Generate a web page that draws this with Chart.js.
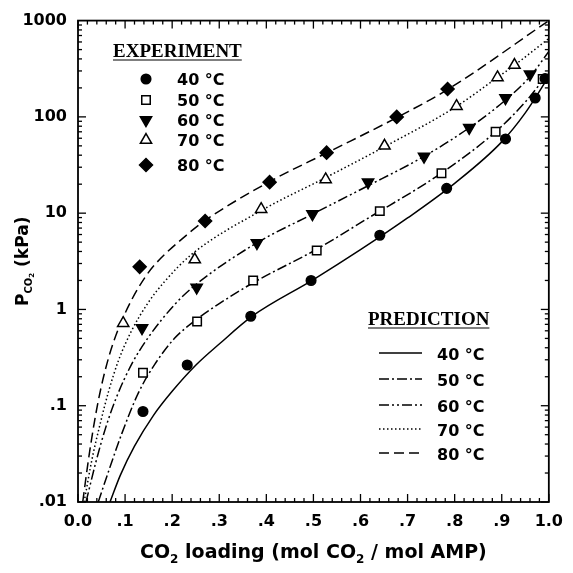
<!DOCTYPE html>
<html>
<head>
<meta charset="utf-8">
<title>CO2 partial pressure over AMP</title>
<script src="https://cdn.jsdelivr.net/npm/chart.js@4.4.1/dist/chart.umd.min.js"></script>
<style>
  html, body { margin: 0; padding: 0; background: #fff; }
  canvas { display: block; }
</style>
</head>
<body>
<canvas id="chart" width="573" height="573"></canvas>
<script>
const temps = ['40 °C', '50 °C', '60 °C', '70 °C', '80 °C'];

// axis ticks
const xTickValues = [0, 0.1, 0.2, 0.3, 0.4, 0.5, 0.6, 0.7, 0.8, 0.9, 1.0];
const xTickLabels = ['0.0', '.1', '.2', '.3', '.4', '.5', '.6', '.7', '.8', '.9', '1.0'];
const yTickValues = [0.01, 0.1, 1, 10, 100, 1000];
const yTickLabels = ['.01', '.1', '1', '10', '100', '1000'];

// experiment (markers)
const exp40X = [0.138, 0.232, 0.367, 0.495, 0.641, 0.783, 0.908, 0.971, 0.992];
const exp40Y = [0.087, 0.265, 0.85, 2.0, 5.9, 18.1, 59, 157, 250];
const exp50X = [0.138, 0.253, 0.372, 0.507, 0.641, 0.772, 0.887, 0.987];
const exp50Y = [0.22, 0.75, 2.0, 4.1, 10.5, 26, 70, 247];
const exp60X = [0.136, 0.252, 0.38, 0.498, 0.616, 0.735, 0.831, 0.908, 0.96];
const exp60Y = [0.64, 1.69, 4.9, 9.8, 21, 38.7, 77, 157, 277];
const exp70X = [0.096, 0.248, 0.389, 0.526, 0.651, 0.804, 0.891, 0.927];
const exp70Y = [0.72, 3.3, 11, 22.4, 50, 129, 257, 345];
const exp80X = [0.131, 0.27, 0.407, 0.528, 0.677, 0.785];
const exp80Y = [2.77, 8.3, 21, 42.5, 100, 195];

// prediction (curves)
const pred40X = [0.068, 0.09, 0.12, 0.16, 0.2, 0.25, 0.3, 0.37, 0.5, 0.6, 0.7, 0.8, 0.9, 0.95, 1.0];
const pred40Y = [0.01, 0.019, 0.038, 0.079, 0.141, 0.263, 0.437, 0.851, 2.04, 4.17, 8.91, 20.4, 55, 110, 263];
const pred50X = [0.043, 0.065, 0.093, 0.128, 0.163, 0.205, 0.253, 0.3, 0.373, 0.509, 0.61, 0.773, 0.888, 0.951, 1.0];
const pred50Y = [0.01, 0.0209, 0.0513, 0.135, 0.269, 0.501, 0.794, 1.148, 1.905, 4.27, 8.51, 26.3, 70.8, 144.5, 288];
const pred60X = [0.017, 0.038, 0.058, 0.081, 0.114, 0.149, 0.205, 0.246, 0.376, 0.498, 0.61, 0.735, 0.829, 0.909, 0.962, 1.0];
const pred60Y = [0.01, 0.026, 0.0575, 0.12, 0.27, 0.51, 1.12, 1.74, 4.79, 9.77, 18.6, 38.9, 75.9, 151, 269, 479];
const pred70X = [0.013, 0.03, 0.048, 0.065, 0.086, 0.114, 0.149, 0.184, 0.241, 0.39, 0.526, 0.651, 0.801, 0.891, 0.928, 1.0];
const pred70Y = [0.01, 0.0282, 0.0676, 0.141, 0.295, 0.603, 1.175, 1.95, 3.72, 10.7, 23.4, 49, 126, 257, 347, 652];
const pred80X = [0.01, 0.024, 0.043, 0.065, 0.086, 0.114, 0.142, 0.164, 0.23, 0.269, 0.404, 0.53, 0.676, 0.787, 1.0];
const pred80Y = [0.01, 0.0316, 0.112, 0.316, 0.631, 1.259, 2.138, 2.951, 5.888, 8.318, 20.9, 42.7, 97.7, 195, 1000];

const FONT = '"DejaVu Sans", sans-serif';

const expSeries = [[exp40X, exp40Y], [exp50X, exp50Y], [exp60X, exp60Y], [exp70X, exp70Y], [exp80X, exp80Y]];
const predSeries = [[pred40X, pred40Y], [pred50X, pred50Y], [pred60X, pred60Y], [pred70X, pred70Y], [pred80X, pred80Y]];

const markers = [
    { pointStyle: 'circle', radius: 4.8, rotation: 0, fill: '#000' },
    { pointStyle: 'rect', radius: 6, rotation: 0, fill: '#fff' },
    { pointStyle: 'triangle', radius: 6.5, rotation: 180, fill: '#000' },
    { pointStyle: 'triangle', radius: 6.5, rotation: 0, fill: '#fff' },
    { pointStyle: 'rectRot', radius: 6.5, rotation: 0, fill: '#000' },
];
const dashes = [[], [10, 3, 2, 3], [10, 3, 2, 3, 2, 3], [1.5, 2.5], [10, 5]];

function pts(xs, ys) {
    return xs.map(function(x, i) { return { x: x, y: ys[i] }; });
}

const datasets = [];
expSeries.forEach(function(s, i) {
    const m = markers[i];
    datasets.push({
        label: 'exp ' + temps[i],
        data: pts(s[0], s[1]),
        showLine: false,
        pointStyle: m.pointStyle,
        pointRadius: m.radius,
        pointRotation: m.rotation,
        pointBackgroundColor: m.fill,
        pointBorderColor: '#000',
        pointBorderWidth: 1.5,
    });
});
predSeries.forEach(function(s, i) {
    datasets.push({
        label: 'pred ' + temps[i],
        data: pts(s[0], s[1]),
        showLine: true,
        pointRadius: 0,
        borderColor: '#000',
        borderWidth: 1.5,
        borderDash: dashes[i],
        cubicInterpolationMode: 'monotone',
        fill: false,
    });
});

function seg(c, x1, y1, x2, y2) {
    c.beginPath();
    c.moveTo(x1, y1);
    c.lineTo(x2, y2);
    c.stroke();
}

// inward ticks on all four sides + frame
const frameTicks = {
    id: 'frameTicks',
    afterDatasetsDraw(chart) {
        const c = chart.ctx;
        const a = chart.chartArea;
        const x = chart.scales.x, y = chart.scales.y;
        c.save();
        c.strokeStyle = '#000';
        c.lineWidth = 1.3;
        for (let i = 0; i <= 50; i++) {
            const px = x.getPixelForValue(i / 50);
            const len = i % 5 === 0 ? 8 : 4;
            seg(c, px, a.bottom, px, a.bottom - len);
            seg(c, px, a.top, px, a.top + len);
        }
        for (let d = -2; d <= 2; d++) {
            for (let m = 1; m <= 9; m++) {
                const py = y.getPixelForValue(m * Math.pow(10, d));
                const len = m === 1 ? 8 : 4;
                seg(c, a.left, py, a.left + len, py);
                seg(c, a.right, py, a.right - len, py);
            }
        }
        c.lineWidth = 1.8;
        c.strokeRect(a.left, a.top, a.right - a.left, a.bottom - a.top);
        c.restore();
    }
};

// draw runs of text with subscripts, centred on cx
function drawRuns(c, runs, cx, baseY) {
    let total = 0;
    runs.forEach(function(r) { c.font = r.font; total += c.measureText(r.text).width; });
    let xx = cx - total / 2;
    runs.forEach(function(r) {
        c.font = r.font;
        c.fillText(r.text, xx, baseY + (r.dy || 0));
        xx += c.measureText(r.text).width;
    });
}

const paperText = {
    id: 'paperText',
    afterDraw(chart) {
        const c = chart.ctx;
        const a = chart.chartArea;
        c.save();
        c.fillStyle = '#000';
        c.strokeStyle = '#000';
        c.textAlign = 'left';
        c.textBaseline = 'alphabetic';

        // x title
        const big = 'bold 19px ' + FONT, sub = 'bold 12px ' + FONT;
        drawRuns(c, [
            { text: 'CO', font: big },
            { text: '2', font: sub, dy: 5 },
            { text: ' loading (mol CO', font: big },
            { text: '2', font: sub, dy: 5 },
            { text: ' / mol AMP)', font: big },
        ], (a.left + a.right) / 2, 558);

        // y title
        c.save();
        c.translate(22, (a.top + a.bottom) / 2);
        c.rotate(-Math.PI / 2);
        drawRuns(c, [
            { text: 'P', font: 'bold 17px ' + FONT },
            { text: 'CO', font: 'bold 10px ' + FONT, dy: 4 },
            { text: '2', font: 'bold 7px ' + FONT, dy: 6 },
            { text: ' (kPa)', font: 'bold 17px ' + FONT },
        ], 0, 6);
        c.restore();

        // legend headers
        c.font = 'bold 19px "Liberation Serif", serif';
        c.lineWidth = 1.2;
        c.fillText('EXPERIMENT', 113, 57);
        seg(c, 113, 60, 113 + c.measureText('EXPERIMENT').width, 60);
        c.fillText('PREDICTION', 368, 325);
        seg(c, 368, 328, 368 + c.measureText('PREDICTION').width, 328);

        // experiment legend
        const expRows = [79, 100, 120, 140, 165];
        c.font = 'bold 16px ' + FONT;
        temps.forEach(function(t, i) {
            const m = markers[i];
            c.fillStyle = m.fill;
            c.strokeStyle = '#000';
            c.lineWidth = 1.5;
            Chart.helpers.drawPoint(c, { pointStyle: m.pointStyle, radius: m.radius, rotation: m.rotation, borderWidth: 1.5 }, 146, expRows[i]);
            c.fillStyle = '#000';
            c.fillText(t, 177, expRows[i] + 6);
        });

        // prediction legend
        const predRows = [353, 379, 405, 429, 453];
        temps.forEach(function(t, i) {
            c.setLineDash(dashes[i]);
            c.lineWidth = 1.5;
            seg(c, 379, predRows[i], 422, predRows[i]);
            c.setLineDash([]);
            c.fillText(t, 437, predRows[i] + 7);
        });
        c.restore();
    }
};

const config = {
    type: 'scatter',
    data: { datasets: datasets },
    options: {
        responsive: false,
        animation: false,
        events: [],
        layout: { padding: { left: 0, right: 16, top: 17, bottom: 0 } },
        plugins: {
            legend: { display: false },
            tooltip: { enabled: false },
        },
        scales: {
            x: {
                type: 'linear',
                min: 0,
                max: 1,
                afterBuildTicks: function(scale) {
                    scale.ticks = xTickValues.map(function(v) { return { value: v }; });
                },
                afterFit: function(scale) { scale.height = 71; },
                grid: { display: false, drawTicks: false },
                border: { display: false },
                ticks: {
                    autoSkip: false,
                    maxRotation: 0,
                    padding: 10,
                    color: '#000',
                    font: { family: FONT, size: 16, weight: 'bold' },
                    callback: function(v, i) { return xTickLabels[i]; },
                },
            },
            y: {
                type: 'logarithmic',
                min: 0.01,
                max: 1000,
                afterBuildTicks: function(scale) {
                    scale.ticks = yTickValues.map(function(v) { return { value: v }; });
                },
                afterFit: function(scale) { scale.width = 78; },
                grid: { display: false, drawTicks: false },
                border: { display: false },
                ticks: {
                    autoSkip: false,
                    padding: 11,
                    color: '#000',
                    font: { family: FONT, size: 16, weight: 'bold' },
                    callback: function(v, i) { return yTickLabels[i]; },
                },
            },
        },
    },
    plugins: [frameTicks, paperText],
};

const ctx = document.getElementById('chart').getContext('2d');
const myChart = new Chart(ctx, config);
</script>
</body>
</html>
